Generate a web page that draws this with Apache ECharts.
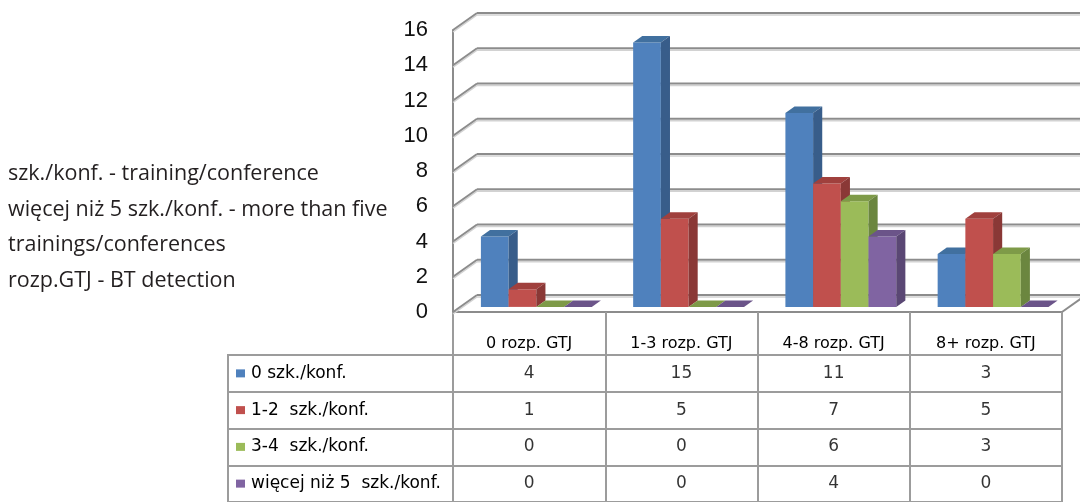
<!DOCTYPE html>
<html>
<head>
<meta charset="utf-8">
<script src="https://cdn.jsdelivr.net/npm/echarts@6/dist/echarts.min.js"></script>
<style>
  html, body { margin: 0; padding: 0; background: #fff; }
  #chart { width: 1080px; height: 502px; }
</style>
</head>
<body>
<div id="chart"></div>
<script>
// Categories (BT detection groups) and series (training/conference groups)
const categories = ['0 rozp. GTJ', '1-3 rozp. GTJ', '4-8 rozp. GTJ', '8+ rozp. GTJ'];
const seriesNames = ['0 szk./konf.', '1-2  szk./konf.', '3-4  szk./konf.', 'więcej niż 5  szk./konf.'];

const values0 = [4, 15, 11, 3];   // 0 szk./konf.
const values1 = [1, 5, 7, 5];     // 1-2 szk./konf.
const values2 = [0, 0, 6, 3];     // 3-4 szk./konf.
const values3 = [0, 0, 4, 0];     // więcej niż 5 szk./konf.

const yMax = 16;
const yStep = 2;

const notes = [
  'szk./konf. - training/conference',
  'więcej niż 5 szk./konf. - more than five',
  'trainings/conferences',
  'rozp.GTJ - BT detection'
];

// Face colours per series: front, top, side
const palette = [
  { front: '#4F81BD', top: '#41709F', side: '#385D8A' },
  { front: '#C0504D', top: '#A0403D', side: '#8A3836' },
  { front: '#9BBB59', top: '#7E9A48', side: '#6B863F' },
  { front: '#8064A2', top: '#6B5489', side: '#5A4774' }
];

const allValues = [values0, values1, values2, values3];

// Pseudo-3D depth of the plot box (front plane -> back wall), in pixels
const DEPTH = [24, -17];
const BAR_FRONT = 0.30;   // fraction of depth where bar fronts sit
const BAR_DEPTH = 0.38;   // fraction of depth taken by each bar
const BAR_FRAC = 0.182;   // bar width as a fraction of the category band

const gridColor = '#8C8C8C';
const gridShade = '#D2D2D2';
const tableColor = '#9C9C9C';

function frameRender(params, api) {
  const cs = params.coordSys;
  const L = cs.x, R = cs.x + cs.width;
  const children = [];
  const line = (x1, y1, x2, y2, color, w) => ({
    type: 'line',
    shape: { x1, y1, x2, y2 },
    style: { stroke: color, lineWidth: w }
  });
  for (let v = 0; v <= yMax; v += yStep) {
    const y = api.coord([0, v])[1];
    const bx = L + DEPTH[0], by = y + DEPTH[1];
    // soft shadow under each gridline
    children.push(line(L, y + 2, bx, by + 2, gridShade, 1.5));
    children.push(line(bx, by + 2, R + DEPTH[0] + 10, by + 2, gridShade, 1.5));
    children.push(line(L, y, bx, by, gridColor, 2));
    children.push(line(bx, by, R + DEPTH[0] + 10, by, gridColor, 2));
  }
  const y0 = api.coord([0, 0])[1];
  children.push(line(R, y0, R + DEPTH[0], y0 + DEPTH[1], gridColor, 2));
  return { type: 'group', children };
}

function makeBarRender(s) {
  return function (params, api) {
    const ci = api.value(0);
    const v = api.value(1);
    const base = api.coord([ci, 0]);
    const topPt = api.coord([ci, v]);
    const band = api.size([1, 0])[0];
    const bw = band * BAR_FRAC;
    const ox = DEPTH[0] * BAR_FRONT, oy = DEPTH[1] * BAR_FRONT;
    const dx = DEPTH[0] * BAR_DEPTH, dy = DEPTH[1] * BAR_DEPTH;
    const x0 = base[0] - 2 * bw + s * bw + ox;
    const x1 = x0 + bw;
    const yb = base[1] + oy;
    const yt = topPt[1] + oy;
    const c = palette[s];
    return {
      type: 'group',
      children: [
        { type: 'rect', shape: { x: x0, y: yt, width: bw, height: yb - yt },
          style: { fill: c.front } },
        { type: 'polygon', shape: { points: [[x0, yt], [x1, yt], [x1 + dx, yt + dy], [x0 + dx, yt + dy]] },
          style: { fill: c.top } },
        { type: 'polygon', shape: { points: [[x1, yt], [x1, yb], [x1 + dx, yb + dy], [x1 + dx, yt + dy]] },
          style: { fill: c.side } }
      ]
    };
  };
}

const barSeries = allValues.map((vals, s) => ({
  type: 'custom',
  name: seriesNames[s],
  xAxisIndex: 0,
  yAxisIndex: 0,
  clip: false,
  silent: true,
  renderItem: makeBarRender(s),
  encode: { x: 0, y: 1 },
  data: vals.map((v, i) => [i, v])
}));

// Table cells: [category index, series index, value]
const tableData = [];
allValues.forEach((vals, s) => vals.forEach((v, i) => tableData.push([i, s, v])));

const rich = { t: { fontFamily: 'DejaVu Sans', fontSize: 17, color: '#000', padding: [0, 0, 0, 6] } };
palette.forEach((c, i) => {
  rich['m' + i] = { width: 9, height: 8, backgroundColor: c.front };
});

const option = {
  animation: false,
  backgroundColor: '#ffffff',
  grid: [
    { left: 453, right: 18, top: 30, bottom: 190 },
    { left: 453, right: 18, top: 355, height: 152 }
  ],
  xAxis: [
    {
      type: 'category', gridIndex: 0, data: categories, boundaryGap: true,
      axisLine: { show: true, lineStyle: { color: gridColor, width: 2 } },
      axisTick: { show: true, interval: 0, length: 200, lineStyle: { color: tableColor, width: 2 } },
      axisLabel: { interval: 0, margin: 32, verticalAlign: 'middle',
                   fontFamily: 'DejaVu Sans', fontSize: 16, color: '#000' },
      splitLine: { show: false }
    },
    { type: 'category', gridIndex: 1, data: categories, show: false }
  ],
  yAxis: [
    {
      type: 'value', gridIndex: 0, min: 0, max: yMax, interval: yStep,
      axisLine: { show: true, lineStyle: { color: gridColor, width: 2 } },
      axisTick: { show: false },
      splitLine: { show: false },
      axisLabel: { margin: 25, fontFamily: 'Liberation Sans', fontSize: 22, color: '#111' }
    },
    {
      type: 'category', gridIndex: 1, data: seriesNames, inverse: true,
      axisLine: { show: false },
      axisTick: { show: true, interval: 0, length: 225, lineStyle: { color: tableColor, width: 2 } },
      splitLine: { show: true, interval: 0, lineStyle: { color: tableColor, width: 2 } },
      axisLabel: {
        interval: 0, margin: 217, align: 'left',
        formatter: (val, idx) => '{m' + idx + '|}{t|' + val + '}',
        rich: rich
      }
    }
  ],
  graphic: [
    { type: 'line', shape: { x1: 228, y1: 354, x2: 228, y2: 510 },
      style: { stroke: tableColor, lineWidth: 2 }, silent: true }
  ].concat(notes.map((t, i) => ({
    type: 'text', left: 8, top: 163 + i * 35.6,
    style: { text: t, fontFamily: 'Open Sans', fontSize: 21.5, fill: '#231F20' },
    silent: true
  }))),
  series: [
    {
      type: 'custom', xAxisIndex: 0, yAxisIndex: 0, clip: false, silent: true, z: 1,
      renderItem: frameRender, data: [[0, 0]]
    }
  ].concat(barSeries).concat([
    {
      type: 'scatter', xAxisIndex: 1, yAxisIndex: 1, silent: true,
      symbolSize: 1, itemStyle: { color: 'rgba(0,0,0,0)' },
      label: {
        show: true, position: 'inside', formatter: p => String(p.value[2]),
        fontFamily: 'DejaVu Sans', fontSize: 17, color: '#000'
      },
      data: tableData
    }
  ])
};

const chart = echarts.init(document.getElementById('chart'), null, { renderer: 'canvas' });
chart.setOption(option);
</script>
</body>
</html>
